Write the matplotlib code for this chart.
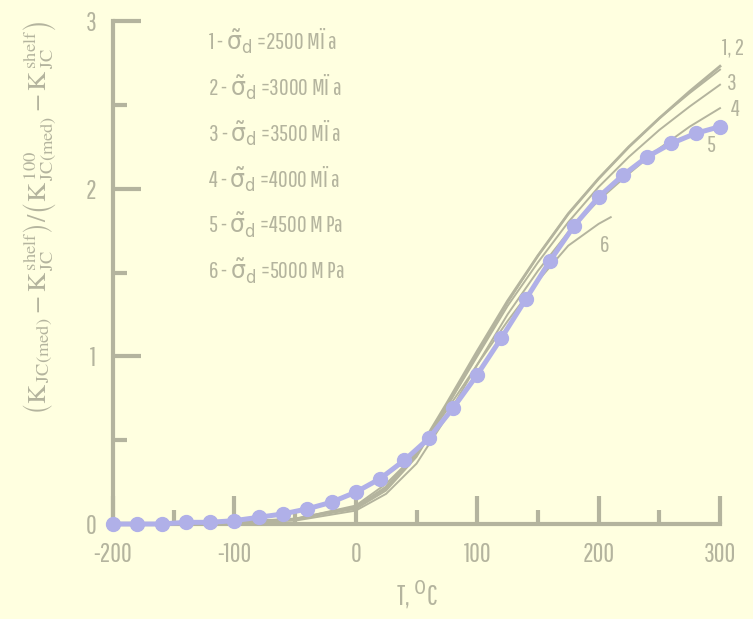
import matplotlib.pyplot as plt
from matplotlib.ticker import FuncFormatter

# температура, °C
T = [-200, -150, -100, -50, 0, 25, 50, 75, 100, 125, 150, 175, 200, 225, 250, 275, 300]
k1 = [0, 0.005, 0.01, 0.03, 0.10, 0.22, 0.42, 0.72, 1.03, 1.33, 1.60, 1.85, 2.06, 2.25, 2.42, 2.58, 2.73]
k2 = [0, 0.005, 0.01, 0.03, 0.09, 0.20, 0.40, 0.70, 1.01, 1.32, 1.60, 1.85, 2.06, 2.25, 2.42, 2.57, 2.71]
k3 = [0, 0.005, 0.01, 0.03, 0.10, 0.21, 0.41, 0.70, 1.00, 1.30, 1.56, 1.80, 2.01, 2.19, 2.35, 2.49, 2.62]
k4 = [0, 0.005, 0.01, 0.02, 0.08, 0.18, 0.36, 0.64, 0.95, 1.25, 1.51, 1.74, 1.93, 2.09, 2.24, 2.37, 2.48]
T6 = [-200, -150, -100, -50, 0, 25, 50, 75, 100, 125, 150, 175, 200, 210]
k6 = [0, 0.005, 0.01, 0.03, 0.11, 0.24, 0.42, 0.68, 0.95, 1.21, 1.45, 1.66, 1.79, 1.83]

# кривая 5 с точками
T5 = [-200, -180, -160, -140, -120, -100, -80, -60, -40, -20, 0, 20, 40, 60,
      80, 100, 120, 140, 160, 180, 200, 220, 240, 260, 280, 300]
k5 = [0.0, 0.0, 0.0, 0.01, 0.01, 0.02, 0.04, 0.06, 0.09, 0.13, 0.19, 0.27, 0.38, 0.51,
      0.69, 0.89, 1.11, 1.34, 1.57, 1.78, 1.95, 2.08, 2.19, 2.27, 2.33, 2.37]

legend = ['1 - $\\tilde{\\sigma}_{\\mathrm{d}}$ =2500 MÏ a',
          '2 - $\\tilde{\\sigma}_{\\mathrm{d}}$ =3000 MÏ a',
          '3 - $\\tilde{\\sigma}_{\\mathrm{d}}$ =3500 MÏ a',
          '4 - $\\tilde{\\sigma}_{\\mathrm{d}}$ =4000 MÏ a',
          '5 - $\\tilde{\\sigma}_{\\mathrm{d}}$ =4500 M Pa',
          '6 - $\\tilde{\\sigma}_{\\mathrm{d}}$ =5000 M Pa']

bg = '#FFFFE0'
gray = '#B4B49E'
purple = '#B0B0E8'
fnt = ['Pathway Gothic One', 'PT Sans Narrow', 'Archivo Narrow', 'DejaVu Sans']
plt.rcParams['font.family'] = fnt
plt.rcParams['mathtext.fontset'] = 'custom'
plt.rcParams['mathtext.rm'] = 'DejaVu Sans'
plt.rcParams['mathtext.it'] = 'DejaVu Sans'

fig = plt.figure(figsize=(7.53, 6.19), dpi=100, facecolor=bg)
ax = fig.add_axes([113/753, 95/619, 607/753, 503/619], facecolor=bg)

for t, k, lw in [(T, k1, 2.0), (T, k2, 1.4), (T, k3, 1.4), (T, k4, 1.4), (T6, k6, 1.4)]:
    ax.plot(t, k, color=gray, lw=lw, clip_on=False, zorder=2)
ax.plot(T5, k5, color=purple, lw=3.6, marker='o', ms=10, clip_on=False, zorder=3)

ax.set_xlim(-200, 300)
ax.set_ylim(0, 3)
for s in ['top', 'right']:
    ax.spines[s].set_visible(False)
for s in ['left', 'bottom']:
    ax.spines[s].set_color(gray)
    ax.spines[s].set_linewidth(3)

ax.set_xticks([-200, -100, 0, 100, 200, 300])
ax.set_xticks([-150, -50, 50, 150, 250], minor=True)
ax.set_yticks([0, 1, 2, 3])
ax.set_yticks([0.5, 1.5, 2.5], minor=True)
ax.xaxis.set_major_formatter(FuncFormatter(lambda v, p: '%d' % v))
ax.tick_params(which='both', direction='in', color=gray, width=3, labelcolor=gray)
ax.tick_params(which='major', length=20, labelsize=19)
ax.tick_params(which='minor', length=10)
ax.tick_params(axis='x', pad=13)
ax.tick_params(axis='y', pad=12)

for i, s in enumerate(legend):
    ax.text(-122, 2.88 - i * 0.275, s, color=gray, fontsize=17, va='center')

ax.text(302, 2.84, '1, 2', color=gray, fontsize=17, va='center')
ax.text(306, 2.63, '3', color=gray, fontsize=17, va='center')
ax.text(309, 2.47, '4', color=gray, fontsize=17, va='center')
ax.text(289, 2.26, '5', color=gray, fontsize=17, va='center')
ax.text(201, 1.66, '6', color=gray, fontsize=17, va='center')

ax.set_xlabel('T, $^{0}$C', color=gray, fontsize=20, labelpad=8)

ylab = (r'$\left(\mathrm{K}_{\,\mathrm{JC(med)}}-\mathrm{K}_{\,\mathrm{JC}}^{\,\mathrm{shelf}}\right)/'
        r'\left(\mathrm{K}_{\,\mathrm{JC(med)}}^{\,\mathrm{100}}-\mathrm{K}_{\,\mathrm{JC}}^{\,\mathrm{shelf}}\right)$')
fig.text(40/753, 1 - 218/619, ylab, rotation=90, ha='center', va='center',
         color=gray, fontsize=19, math_fontfamily='stix')

fig.savefig('out.png', dpi=100, facecolor=bg)
